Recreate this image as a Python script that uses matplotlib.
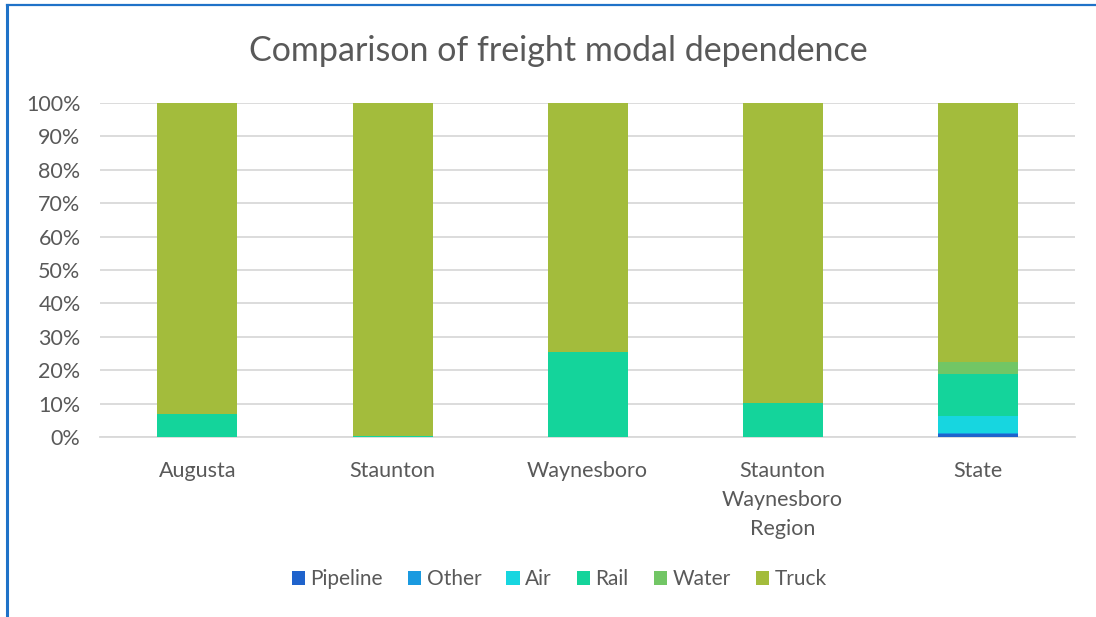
import matplotlib
matplotlib.use("Agg")
import matplotlib.pyplot as plt
import numpy as np
from matplotlib.ticker import FuncFormatter

plt.rcParams['font.family'] = ['Lato', 'DejaVu Sans']

categories = ["Augusta", "Staunton", "Waynesboro", "Staunton\nWaynesboro\nRegion", "State"]
modes = ["Pipeline", "Other", "Air", "Rail", "Water", "Truck"]
pipeline = [0.0, 0.0, 0.0, 0.0, 1.0]
other = [0.0, 0.0, 0.0, 0.0, 0.2]
air = [0.0, 0.0, 0.0, 0.0, 5.1]
rail = [7.0, 0.3, 25.5, 10.2, 12.7]
water = [0.0, 0.0, 0.0, 0.0, 3.5]
truck = [93.0, 99.7, 74.5, 89.8, 77.5]
series = [pipeline, other, air, rail, water, truck]
colors = ["#1f63cc", "#1a9ae0", "#17d6e0", "#14d49b", "#72c665", "#a3bc3c"]

fig = plt.figure(figsize=(10.96, 6.17), dpi=100)
ax = fig.add_axes([0.0912, 0.2917, 0.8898, 0.5413])

x = np.arange(len(categories))
bottom = np.zeros(len(categories))
for name, vals, c in zip(modes, series, colors):
    v = np.array(vals)
    ax.bar(x, v, width=0.41, bottom=bottom, color=c, label=name, zorder=3, linewidth=0)
    bottom += v

ax.set_ylim(0, 100)
ax.set_xlim(-0.5, len(categories) - 0.5)
ax.set_yticks(np.arange(0, 101, 10))
ax.yaxis.set_major_formatter(FuncFormatter(lambda v, p: f"{int(v)}%"))
ax.grid(axis='y', color='#d9d9d9', linewidth=1.3, zorder=0)
ax.set_axisbelow(True)
for s in ['top', 'right', 'left']:
    ax.spines[s].set_visible(False)
ax.spines['bottom'].set_color('#d9d9d9')
ax.spines['bottom'].set_linewidth(1.3)
ax.tick_params(axis='both', length=0, labelsize=15.5, colors='#595959')
ax.tick_params(axis='y', pad=14)
ax.set_xticks(x)
ax.set_xticklabels(categories, linespacing=1.56)
ax.tick_params(axis='x', pad=17)

fig.text(0.509, 0.918, "Comparison of freight modal dependence", ha='center', va='center',
         fontsize=24.5, color='#595959')

leg = fig.legend(loc='center', bbox_to_anchor=(0.51, 0.061), ncol=6, frameon=False,
                 fontsize=15, handlelength=0.65, handleheight=0.65, handletextpad=0.25,
                 columnspacing=1.2, labelcolor='#595959')

# border frame
fig.add_artist(plt.Line2D([0.0064, 0.0064], [0, 0.9919], color='#1f72c8', linewidth=2.2, transform=fig.transFigure))
fig.add_artist(plt.Line2D([0.0064, 1.0], [0.9919, 0.9919], color='#1f72c8', linewidth=1.6, transform=fig.transFigure))

fig.savefig("out.png", dpi=100)
